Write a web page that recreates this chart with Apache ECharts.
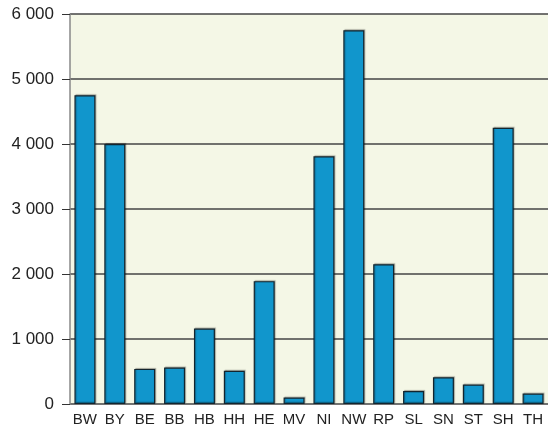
<!DOCTYPE html>
<html><head><meta charset="utf-8">
<script src="https://cdn.jsdelivr.net/npm/echarts@6/dist/echarts.min.js"></script>
<style>html,body{margin:0;padding:0;background:#fff}#c{width:548px;height:433px}</style>
</head><body><div id="c"></div>
<script>
const categories = ['BW','BY','BE','BB','HB','HH','HE','MV','NI','NW','RP','SL','SN','ST','SH','TH'];
const values = [4750,4000,540,560,1160,510,1890,100,3810,5750,2150,200,410,300,4250,160];
const yTicks = {min:0,max:6000,interval:1000};
const chart = echarts.init(document.getElementById('c'));
chart.setOption({
  animation:false,
  grid:{left:70,top:14,width:480,height:390,show:true,backgroundColor:'#f4f7e6',borderWidth:0},
  xAxis:{type:'category',data:categories,
    axisLine:{show:false},axisTick:{show:false},
    axisLabel:{color:'#222',fontFamily:'Liberation Sans, Arial, sans-serif',fontSize:15,margin:8,interval:0}},
  yAxis:{type:'value',min:yTicks.min,max:yTicks.max,interval:yTicks.interval,
    axisLine:{show:true,lineStyle:{color:'#888',width:1.5}},
    axisTick:{show:true,length:8,lineStyle:{color:'#333'}},
    splitLine:{show:true,lineStyle:{color:'#444',width:1.5}},
    axisLabel:{color:'#222',fontFamily:'Liberation Sans, Arial, sans-serif',fontSize:17,margin:16,
      formatter:v=>String(v).replace(/\B(?=(\d{3})+(?!\d))/g,' ')}},
  series:[{type:'bar',data:values,barWidth:21,
    itemStyle:{color:'#1196cc',borderColor:'#13252e',borderWidth:1.2,
      shadowColor:'rgba(0,0,0,0.25)',shadowOffsetX:1,shadowOffsetY:-1,shadowBlur:1}}]
});
</script></body></html>
